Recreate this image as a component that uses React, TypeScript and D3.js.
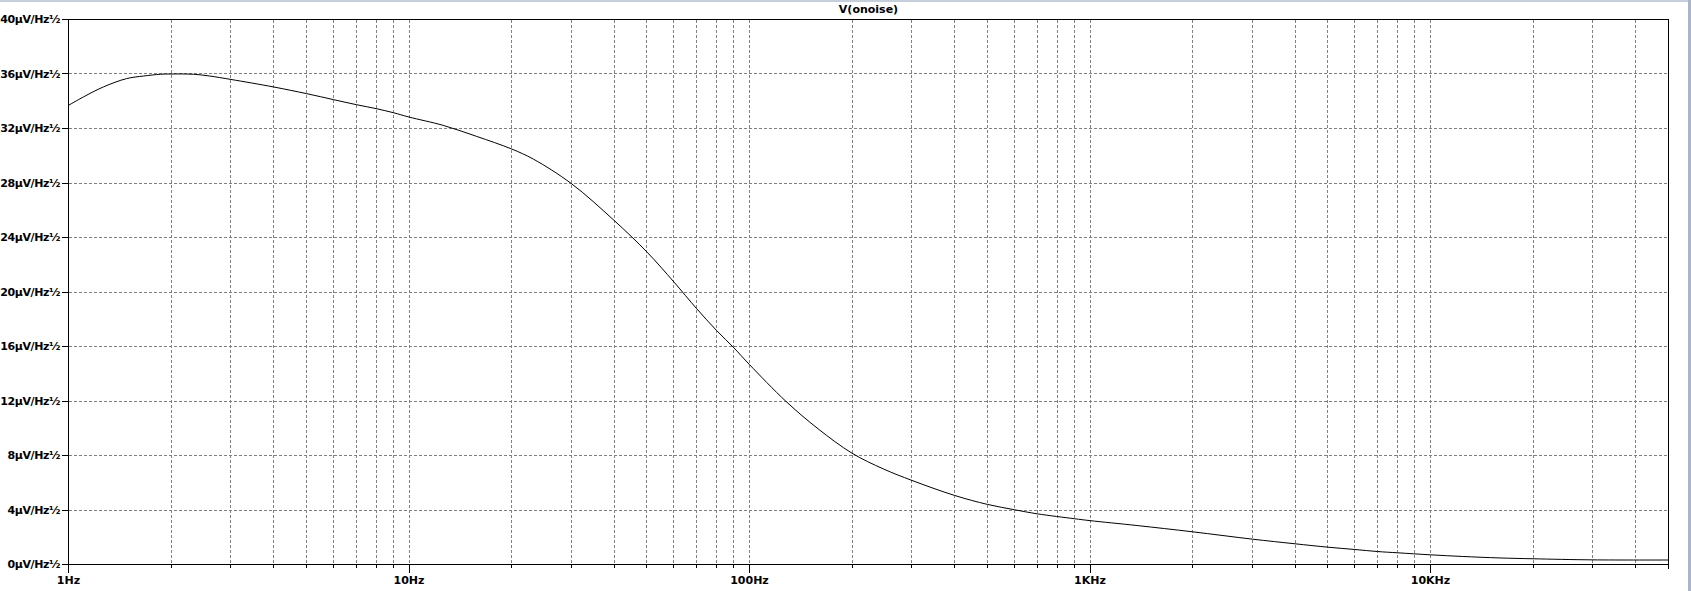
import React from "react";
import * as d3 from "d3";

const freqs = [1, 1.105, 1.266, 1.48, 1.66, 1.86, 2, 2.33, 2.6, 3, 4, 5, 6, 7, 8, 9, 10, 12.6, 15.8, 20, 23.2, 30, 40, 50, 60, 70, 80, 90, 100, 128, 159, 200, 247, 300, 400, 500, 600, 700, 900, 1000, 1375, 2000, 3000, 4000, 5000, 6000, 7000, 8000, 10000, 12400, 16000, 20000, 30000, 50000];
const noise = [33.7, 34.31, 35.05, 35.66, 35.85, 35.98, 36.0, 35.98, 35.85, 35.6, 35.05, 34.56, 34.12, 33.75, 33.46, 33.16, 32.84, 32.23, 31.42, 30.5, 29.75, 27.95, 25.26, 22.93, 20.73, 18.77, 17.18, 15.9, 14.67, 11.97, 9.96, 8.17, 7.02, 6.17, 5.07, 4.41, 4.02, 3.72, 3.36, 3.22, 2.86, 2.4, 1.86, 1.52, 1.27, 1.1, 0.95, 0.86, 0.71, 0.59, 0.48, 0.42, 0.34, 0.33];

const yTicks = [0, 4, 8, 12, 16, 20, 24, 28, 32, 36, 40];
const yTickLabels = yTicks.map((v) => `${v}µV/Hz½`);
const xMajor = [1, 10, 100, 1000, 10000];
const xMajorLabels = ["1Hz", "10Hz", "100Hz", "1KHz", "10KHz"];
const title = "V(onoise)";

const W = 1691;
const H = 591;
const L = 68.5, R = 1668.5, T = 19.5, B = 564.5;
const FONT = "'DejaVu Sans', sans-serif";

export default function App() {
  const x = d3.scaleLog().domain([1, 50000]).range([L, R]);
  const y = d3.scaleLinear().domain([0, 40]).range([B, T]);

  const minor: number[] = [];
  for (let dec = 1; dec <= 10000; dec *= 10) {
    for (let m = 2; m <= 9; m++) {
      const f = dec * m;
      if (f < 50000) minor.push(f);
    }
  }
  const vGrid = [...xMajor.filter((f) => f > 1), ...minor];
  const px = (v: number) => Math.floor(v) + 0.5;

  const line = d3
    .line<number>()
    .x((_, i) => x(freqs[i]))
    .y((d) => y(d))
    .curve(d3.curveCatmullRom.alpha(0.5));

  return (
    <svg
      width={W}
      height={H}
      style={{ position: "absolute", left: 0, top: 0, background: "#fff" }}
    >
      <rect x={0} y={0} width={W} height={H} fill="#ffffff" />
      <rect x={0} y={0} width={1688} height={2} fill="#c4cedc" />
      <rect x={1688} y={0} width={3} height={H} fill="#aab6c8" />

      {/* grid */}
      <g stroke="#808080" strokeWidth={1} strokeDasharray="3,2" shapeRendering="crispEdges">
        {yTicks
          .filter((v) => v > 0 && v < 40)
          .map((v) => (
            <line key={"h" + v} x1={L} x2={R} y1={px(y(v))} y2={px(y(v))} />
          ))}
        {vGrid.map((f) => (
          <line key={"v" + f} x1={px(x(f))} x2={px(x(f))} y1={T} y2={B} />
        ))}
      </g>

      {/* frame & axes */}
      <g stroke="#000" strokeWidth={1} shapeRendering="crispEdges" fill="none">
        <line x1={L} x2={R} y1={T} y2={T} />
        <line x1={R} x2={R} y1={T} y2={B + 4} />
        <line x1={L} x2={L} y1={T} y2={B + 8} />
        <line x1={L} x2={R} y1={B} y2={B} />
        {yTicks.map((v) => (
          <line key={"yt" + v} x1={L - 7} x2={L} y1={px(y(v))} y2={px(y(v))} />
        ))}
        {xMajor.map((f) => (
          <line key={"xM" + f} x1={px(x(f))} x2={px(x(f))} y1={B} y2={B + 8} />
        ))}
        {minor.map((f) => (
          <line key={"xm" + f} x1={px(x(f))} x2={px(x(f))} y1={B} y2={B + 3} />
        ))}
      </g>

      {/* curve */}
      <path d={line(noise) || ""} fill="none" stroke="#000" strokeWidth={1} />

      {/* labels */}
      <g fontFamily={FONT} fontWeight="bold" fontSize={11} fill="#000">
        {yTicks.map((v, i) => (
          <text key={"yl" + v} x={60} y={y(v)} dy="0.36em" textAnchor="end" letterSpacing={-0.4}>
            {yTickLabels[i]}
          </text>
        ))}
        {xMajor.map((f, i) => (
          <text key={"xl" + f} x={x(f)} y={584} textAnchor="middle">
            {xMajorLabels[i]}
          </text>
        ))}
        <text x={(L + R) / 2} y={13} textAnchor="middle">
          {title}
        </text>
      </g>
    </svg>
  );
}
